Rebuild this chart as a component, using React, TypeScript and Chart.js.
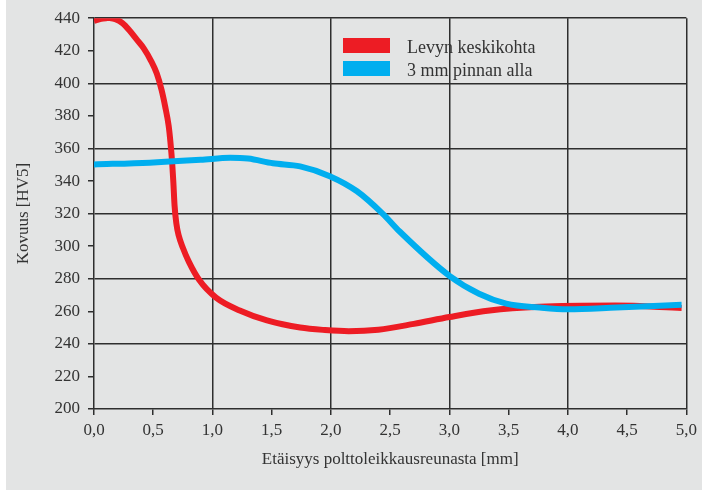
import React, { useEffect, useRef } from "react";
import { Chart, registerables } from "chart.js";

Chart.register(...registerables);

const seriesNames = ["Levyn keskikohta", "3 mm pinnan alla"];
const seriesColors = ["#ed1c24", "#00aeef"];

// Levyn keskikohta: [distance mm, hardness HV5]
const redX = [0, 0.06, 0.12, 0.18, 0.24, 0.3, 0.36, 0.42, 0.48, 0.53, 0.57, 0.6, 0.63, 0.645, 0.66, 0.67, 0.68, 0.695, 0.715, 0.75, 0.8, 0.89, 1.03, 1.23, 1.46, 1.74, 1.95, 2.15, 2.4, 2.7, 3.0, 3.34, 3.76, 4.4, 4.96];
const redY = [438.3, 439.6, 440.2, 439.4, 437, 432.5, 427, 421.5, 414, 406, 396, 386, 374, 364, 351, 339, 325, 314, 306.5, 299, 290.5, 279, 268.4, 260.5, 254.4, 250, 248.5, 247.8, 248.7, 252.3, 256.5, 260.5, 262.8, 263.5, 262];

// 3 mm pinnan alla
const blueX = [0, 0.47, 0.9, 1.15, 1.3, 1.51, 1.74, 1.99, 2.22, 2.44, 2.58, 3.0, 3.25, 3.48, 3.76, 4.0, 4.41, 4.96];
const blueY = [350.2, 351.3, 353, 354.3, 353.8, 350.9, 349, 343, 333.7, 319.7, 309, 281.8, 270.8, 264.7, 262.3, 261.2, 262.3, 264];

const xTitle = "Etäisyys polttoleikkausreunasta [mm]";
const yTitle = "Kovuus [HV5]";

const FONT = "'Liberation Serif', 'Times New Roman', serif";
const TEXT = "#333333";
const GRID = "#2e2e2e";

const toPts = (xs: number[], ys: number[]) => xs.map((x, i) => ({ x, y: ys[i] }));

export default function App() {
  const ref = useRef<HTMLCanvasElement>(null);
  useEffect(() => {
    const bgPlugin = {
      id: "bg",
      beforeDraw(chart: any) {
        const c = chart.ctx;
        c.save();
        c.fillStyle = "#ffffff";
        c.fillRect(0, 0, chart.width, chart.height);
        c.fillStyle = "#e3e4e4";
        c.fillRect(6, 0, chart.width - 6, chart.height);
        c.restore();
      },
    };
    const legendPlugin = {
      id: "customLegend",
      afterDraw(chart: any) {
        const c = chart.ctx;
        c.save();
        const x0 = 343;
        const ys = [38, 61];
        seriesNames.forEach((n, i) => {
          c.fillStyle = seriesColors[i];
          c.fillRect(x0, ys[i], 47, 15);
          c.fillStyle = TEXT;
          c.font = `18px ${FONT}`;
          c.textBaseline = "alphabetic";
          c.textAlign = "left";
          c.fillText(n, 407, ys[i] + 15);
        });
        c.restore();
      },
    };
    const chart = new Chart(ref.current!, {
      type: "line",
      data: {
        datasets: [
          {
            label: seriesNames[0],
            data: toPts(redX, redY),
            borderColor: seriesColors[0],
            borderWidth: 6,
            pointRadius: 0,
            cubicInterpolationMode: "monotone",
            fill: false,
            order: 1,
          },
          {
            label: seriesNames[1],
            data: toPts(blueX, blueY),
            borderColor: seriesColors[1],
            borderWidth: 6,
            pointRadius: 0,
            cubicInterpolationMode: "monotone",
            fill: false,
            order: 0,
          },
        ],
      },
      options: {
        responsive: false,
        animation: false,
        devicePixelRatio: 1,
        layout: { padding: { left: 0, right: 15, top: 16, bottom: 0 } },
        plugins: { legend: { display: false }, tooltip: { enabled: false } },
        scales: {
          x: {
            type: "linear",
            min: 0,
            max: 5,
            afterFit: (s: any) => {
              s.height = 81;
            },
            ticks: {
              stepSize: 0.5,
              color: TEXT,
              font: { family: FONT, size: 17 },
              padding: 5,
              maxRotation: 0,
              callback: (v: any) => Number(v).toFixed(1).replace(".", ","),
            },
            grid: {
              color: (ctx: any) =>
                ctx.tick && Math.abs(ctx.tick.value % 1) < 1e-6 && ctx.tick.value > 0 ? GRID : "rgba(0,0,0,0)",
              lineWidth: 1.5,
              tickColor: GRID,
              tickLength: 6,
              tickWidth: 1.5,
            },
            border: { display: true, color: GRID, width: 1.5 },
            title: {
              display: true,
              text: xTitle,
              color: TEXT,
              font: { family: FONT, size: 17 },
              padding: { top: 0, bottom: 20 },
            },
          },
          y: {
            min: 200,
            max: 440,
            afterFit: (s: any) => {
              s.width = 94;
            },
            ticks: {
              stepSize: 20,
              color: TEXT,
              font: { family: FONT, size: 17 },
              padding: 8,
            },
            grid: {
              color: (ctx: any) =>
                ctx.tick && ctx.tick.value % 40 === 0 && ctx.tick.value > 200 ? GRID : "rgba(0,0,0,0)",
              lineWidth: 1.5,
              tickColor: GRID,
              tickLength: 6,
              tickWidth: 1.5,
            },
            border: { display: true, color: GRID, width: 1.5 },
            title: {
              display: true,
              text: yTitle,
              color: TEXT,
              font: { family: FONT, size: 17 },
              padding: { top: 13, bottom: 0 },
            },
          },
        },
      },
      plugins: [bgPlugin, legendPlugin],
    } as any);
    return () => chart.destroy();
  }, []);
  return (
    <div style={{ position: "absolute", left: 0, top: 0, width: 702, height: 490 }}>
      <canvas ref={ref} width={702} height={490} style={{ width: 702, height: 490, display: "block" }} />
    </div>
  );
}
